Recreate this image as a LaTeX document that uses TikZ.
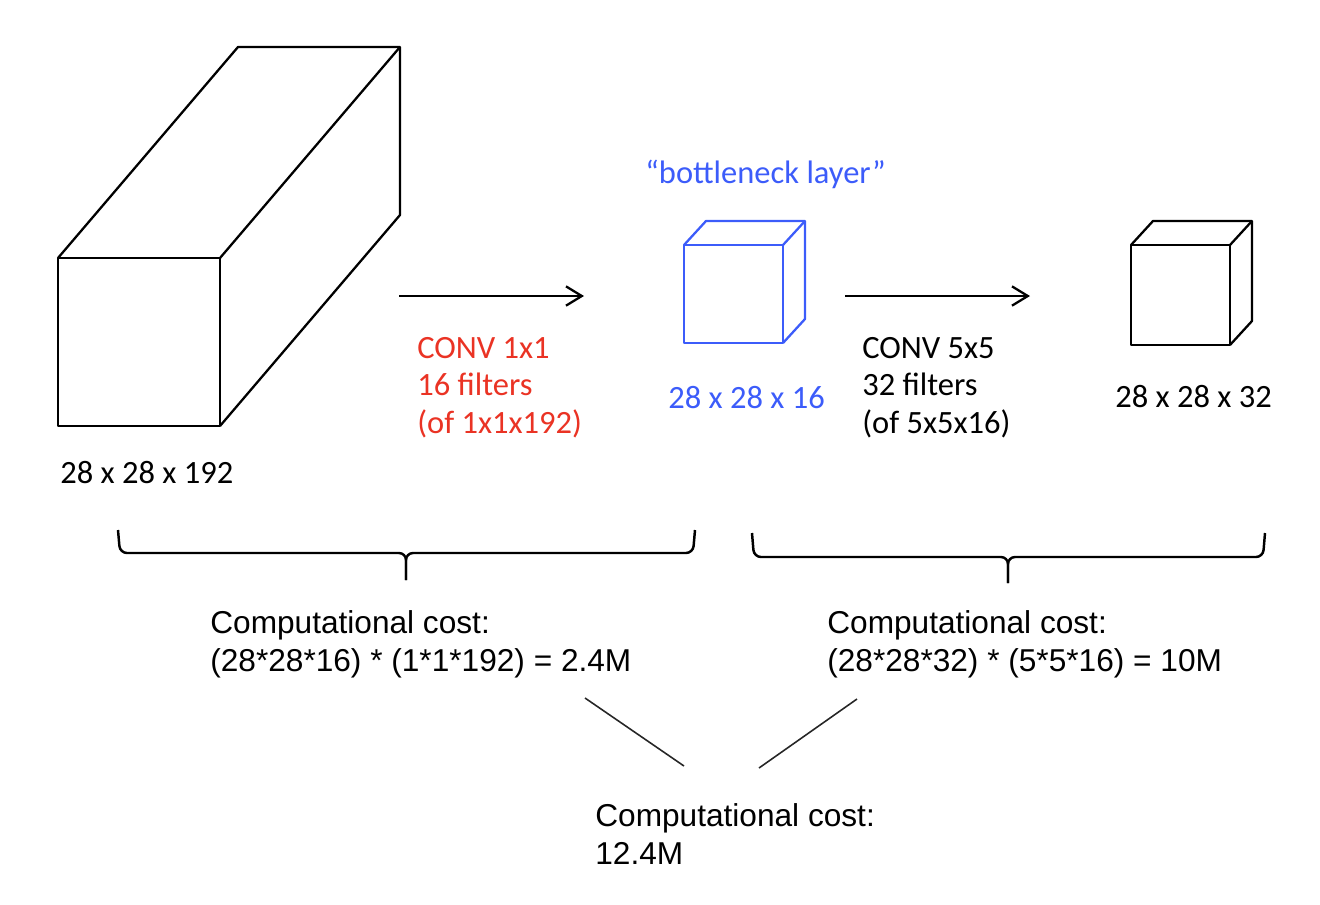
\documentclass[tikz,border=0pt]{standalone}
\usepackage{fontspec}
\setmainfont{Carlito}
\newfontfamily\arialfont{Liberation Sans}
\usetikzlibrary{arrows.meta}
\usepackage{xcolor}
\definecolor{convred}{RGB}{234,51,36}
\definecolor{bnblue}{RGB}{60,92,250}

\tikzset{
  box/.style={line width=1.3pt, line join=round},
  lbl/.style={font=\fontsize{18.5}{21.3}\selectfont, inner sep=0pt, anchor=base west, align=left},
  cost/.style={font=\arialfont\fontsize{18}{21.5}\selectfont, inner sep=0pt, anchor=base west, align=left},
  flow/.style={line width=1.1pt, -{Straight Barb[length=9pt,width=11pt,line width=1.3pt]}},
  brace/.style={line width=1.4pt, rounded corners=4pt},
  joinline/.style={line width=0.9pt, black!85},
}

\begin{document}
\begin{tikzpicture}[x=0.02cm, y=-0.02cm]
            \useasboundingbox (0,0) rectangle (1320,904);

            % Wejście 28 x 28 x 192 (długi prostopadłościan)
            \draw[box] (58,258) rectangle (220,426);
            \draw[box] (58,258) -- (238,47) -- (400,47) -- (400,215) -- (220,426);
            \draw[box] (220,258) -- (400,47);
            \node[lbl] (lbl192) at (60,483) {28 x 28 x 192};

            % Pierwsza strzałka + opis konwolucji 1x1
            \coordinate (convAin) at (399,296);
            \coordinate (convAout) at (584,296);
            \draw[flow] (convAin) -- (convAout);
            \node[lbl, text=convred] (conv1) at (417,433) {CONV 1x1\\16 filters\\(of 1x1x192)};

            % Warstwa "bottleneck" (niebieska kostka)
            \node[lbl, text=bnblue] (bneck) at (645,183) {“bottleneck layer”};
            \draw[box, bnblue] (684,245) rectangle (783,343);
            \draw[box, bnblue] (684,245) -- (706,221) -- (805,221) -- (805,319) -- (783,343);
            \draw[box, bnblue] (783,245) -- (805,221);
            \node[lbl, text=bnblue] (lbl16) at (668,408) {28 x 28 x 16};

            % Druga strzałka + opis konwolucji 5x5
            \coordinate (convBin) at (845,296);
            \coordinate (convBout) at (1030,296);
            \draw[flow] (convBin) -- (convBout);
            \node[lbl] (conv5) at (862,433) {CONV 5x5\\32 filters\\(of 5x5x16)};

            % Wyjście 28 x 28 x 32
            \draw[box] (1131,245) rectangle (1230,345);
            \draw[box] (1131,245) -- (1153,221) -- (1252,221) -- (1252,321) -- (1230,345);
            \draw[box] (1230,245) -- (1252,221);
            \node[lbl] (lbl32) at (1115,407) {28 x 28 x 32};

            % Klamry
            \draw[brace] (118,530) -- (120,553) -- (406,553) -- (406,580);
            \draw[brace] (695,530) -- (693,553) -- (406,553) -- (406,580);
            \draw[brace] (752,533) -- (754,557) -- (1008,557) -- (1008,583);
            \draw[brace] (1265,533) -- (1263,557) -- (1008,557) -- (1008,583);

            % Koszty obliczeniowe
            \node[cost] (costA) at (210,671) {Computational cost:\\(28*28*16) * (1*1*192) = 2.4M};
            \node[cost] (costB) at (827,671) {Computational cost:\\(28*28*32) * (5*5*16) = 10M};
            \node[cost] (costSum) at (595,864) {Computational cost:\\12.4M};

            % Linie sumy
            \coordinate (sumAtop) at (585,698);
            \coordinate (sumAbot) at (684,766);
            \coordinate (sumBtop) at (857,699);
            \coordinate (sumBbot) at (759,768);
            \draw[joinline] (sumAtop) -- (sumAbot);
            \draw[joinline] (sumBtop) -- (sumBbot);

\end{tikzpicture}
\end{document}
